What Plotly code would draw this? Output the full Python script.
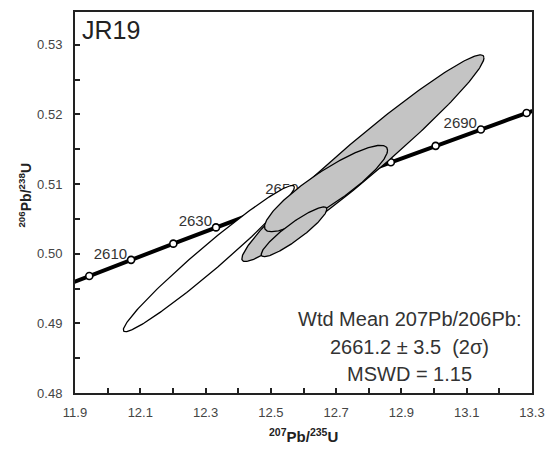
import numpy as np
import plotly.graph_objects as go

# Uranium decay constants (per year)
LAMBDA_238 = 1.55125e-10
LAMBDA_235 = 9.8485e-10

# Concordia age marks (Ma) and which of them carry a label
concordia_ages = [2600, 2610, 2620, 2630, 2640, 2650, 2660, 2670, 2680, 2690, 2700]
labeled_ages = [2610, 2630, 2650, 2670, 2690]

# Zircon analyses: 207Pb/235U, 206Pb/238U, 2-sigma half extents, error correlation
r75 = [12.31, 12.782, 12.669, 12.571]
r75_err = [0.262, 0.3709, 0.1885, 0.1006]
r68 = [0.4993, 0.51371, 0.50936, 0.50314]
r68_err = [0.0105, 0.01483, 0.0062, 0.00357]
rho = [0.976, 0.972, 0.886, 0.91]
fill_colors = ["#ffffff", "#c4c4c4", "#c4c4c4", "#c4c4c4"]

# Axis extents
x_range = [11.9, 13.3]
y_range = [0.48, 0.5347]

sample_name = "JR19"
x_title = "<b><sup>207</sup>Pb/<sup>235</sup>U</b>"
y_title = "<b><sup>206</sup>Pb/<sup>238</sup>U</b>"
result_lines = [
    "Wtd Mean 207Pb/206Pb:",
    "2661.2 \u00b1 3.5\u00a0\u00a0(2\u03c3)",
    "MSWD = 1.15",
]

FONT = "Liberation Sans, Arial"


def concordia(age_ma):
    t = np.asarray(age_ma, dtype=float) * 1e6
    return np.exp(LAMBDA_235 * t) - 1.0, np.exp(LAMBDA_238 * t) - 1.0


fig = go.Figure()

# Concordia curve
curve_t = np.linspace(2590, 2710, 400)
cx, cy = concordia(curve_t)
fig.add_trace(go.Scatter(x=cx, y=cy, mode="lines",
                         line=dict(color="black", width=4),
                         hoverinfo="skip", showlegend=False))

# Age marks on the curve
mx, my = concordia(concordia_ages)
fig.add_trace(go.Scatter(x=mx, y=my, mode="markers",
                         marker=dict(size=7, color="white",
                                     line=dict(color="black", width=1.6)),
                         showlegend=False))

# Age labels (a text trace, so the ellipses drawn afterwards sit on top)
lx, ly = concordia(labeled_ages)
fig.add_trace(go.Scatter(x=lx - 0.012, y=ly + 0.0007, mode="text",
                         text=[str(a) for a in labeled_ages],
                         textposition="middle left",
                         textfont=dict(family=FONT, size=15, color="#333333"),
                         showlegend=False, hoverinfo="skip"))

# Error ellipses
theta = np.linspace(0, 2 * np.pi, 241)
for x0, sx, y0, sy, r, fc in zip(r75, r75_err, r68, r68_err, rho, fill_colors):
    ex = x0 + sx * np.cos(theta)
    ey = y0 + sy * (r * np.cos(theta) + np.sqrt(1 - r * r) * np.sin(theta))
    fig.add_trace(go.Scatter(x=ex, y=ey, mode="lines", fill="toself",
                             fillcolor=fc, line=dict(color="black", width=1.3),
                             hoverinfo="skip", showlegend=False))

axis_common = dict(
    showgrid=False, zeroline=False, showline=True, linecolor="#222222",
    linewidth=2, mirror=True, ticks="inside", ticklen=5, tickwidth=2,
    tickcolor="#222222",
    tickfont=dict(family=FONT, size=13, color="#444444"),
)

fig.update_layout(
    width=555, height=450,
    margin=dict(l=75, r=15, t=10, b=57),
    paper_bgcolor="white", plot_bgcolor="white",
    xaxis=dict(range=x_range, tick0=11.9, dtick=0.2, tickformat=".1f",
               minor=dict(dtick=0.1, tick0=11.9, ticks="inside", ticklen=5,
                          tickwidth=2, tickcolor="#222222"),
               ticklabelstandoff=6, **axis_common),
    yaxis=dict(range=y_range, tick0=0.48, dtick=0.01, tickformat=".2f",
               minor=dict(dtick=0.005, tick0=0.48, ticks="inside", ticklen=5,
                          tickwidth=2, tickcolor="#222222"),
               ticklabelstandoff=8, **axis_common),
)

# Axis titles
fig.add_annotation(text=x_title, xref="paper", yref="paper",
                   x=0.499, y=-0.112, xanchor="center", yanchor="middle",
                   showarrow=False, font=dict(family=FONT, size=15, color="#222222"))
fig.add_annotation(text=y_title, xref="paper", yref="paper", textangle=-90,
                   x=-0.11, y=0.52, xanchor="center", yanchor="middle",
                   showarrow=False, font=dict(family=FONT, size=14, color="#222222"))

fig.add_annotation(text=sample_name, xref="x domain", yref="y domain",
                   x=0.012, y=0.995, xanchor="left", yanchor="top", showarrow=False,
                   font=dict(family=FONT, size=25, color="#222222"))

for i, line in enumerate(result_lines):
    fig.add_annotation(text=line, xref="x domain", yref="y domain",
                       x=0.731, y=0.195 - i * 0.073, xanchor="center", yanchor="middle",
                       showarrow=False,
                       font=dict(family=FONT, size=20, color="#333333"))

fig.write_html("out.html")
